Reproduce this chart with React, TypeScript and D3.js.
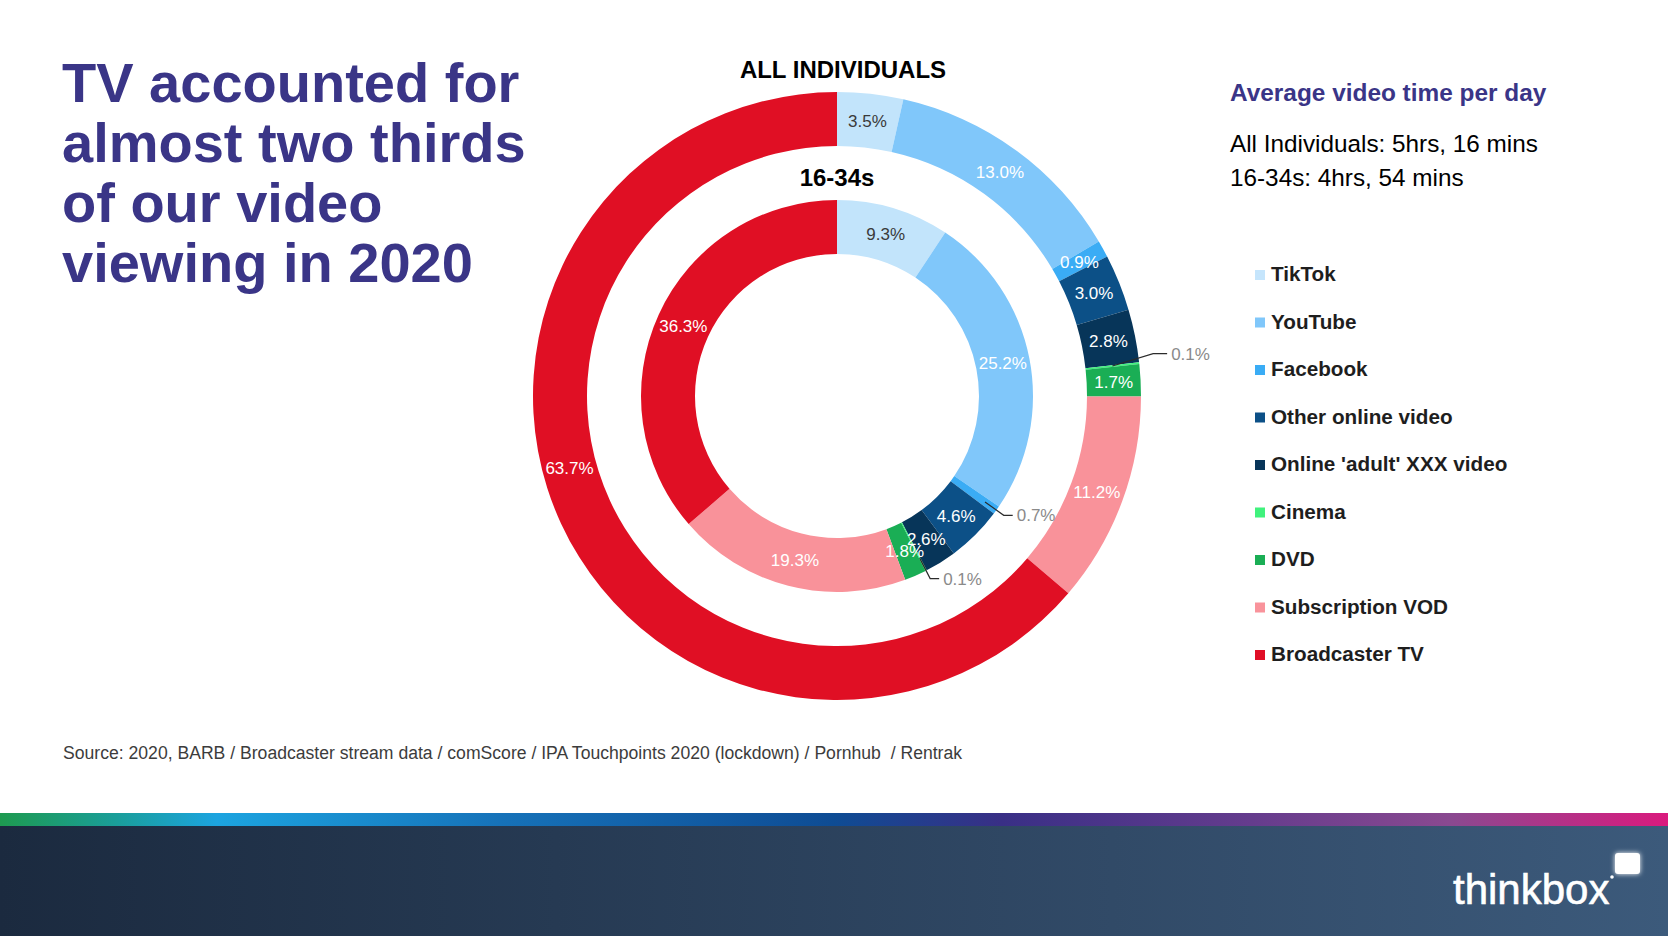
import React from 'react';
import * as d3 from 'd3';

const categories = ['TikTok', 'YouTube', 'Facebook', 'Other online video', "Online 'adult' XXX video", 'Cinema', 'DVD', 'Subscription VOD', 'Broadcaster TV'];
const allIndividuals = [3.5, 13.0, 0.9, 3.0, 2.8, 0.1, 1.7, 11.2, 63.7];
const age1634 = [9.3, 25.2, 0.7, 4.6, 2.6, 0.1, 1.8, 19.3, 36.3];
const sliceColors = ['#C2E4FB', '#80C7FA', '#3AACF5', '#0C5087', '#073559', '#40F27D', '#1AAE55', '#F9929A', '#E00F24'];
const legendColors = ['#C5E5FC', '#80C7FA', '#3AACF5', '#0C5087', '#073559', '#40F27D', '#1AAE55', '#F9939B', '#E00E26'];
const titleLines = ['TV accounted for', 'almost two thirds', 'of our video', 'viewing in 2020'];
const sideHeading = 'Average video time per day';
const sideLines = ['All Individuals: 5hrs, 16 mins', '16-34s: 4hrs, 54 mins'];
const outerTitle = 'ALL INDIVIDUALS';
const innerTitle = '16-34s';
const sourceText = 'Source: 2020, BARB / Broadcaster stream data / comScore / IPA Touchpoints 2020 (lockdown) / Pornhub  / Rentrak';

const W = 1668;
const H = 936;
const FONT = "'Liberation Sans', Arial, sans-serif";
const cx = 837;
const cy = 396;
const outerRing = { inner: 250, outer: 304 };
const innerRing = { inner: 142, outer: 196 };
const OUTSIDE_THRESHOLD = 0.8;

const pie = d3.pie<number>().sort(null).value((d) => d).startAngle(0).endAngle(2 * Math.PI);

function Ring({ values, ring, leaderStart, elbowR, elbowDy, hLen, largestLabelTurn }: any) {
  const arcs = pie(values);
  const arc = d3.arc<d3.PieArcDatum<number>>().innerRadius(ring.inner).outerRadius(ring.outer);
  const pt = (a: number, r: number) => [r * Math.sin(a), -r * Math.cos(a)];
  const maxVal = d3.max(values as number[]) as number;
  const midR = (ring.inner + ring.outer) / 2;
  return (
    <g transform={`translate(${cx},${cy})`}>
      {arcs.map((a, i) => (
        <path key={'p' + i} d={arc(a) || ''} fill={sliceColors[i]} />
      ))}
      {arcs.map((a, i) => {
        const label = a.data.toFixed(1) + '%';
        const mid = (a.startAngle + a.endAngle) / 2;
        if (a.data < OUTSIDE_THRESHOLD) {
          const [sx, sy] = pt(mid, leaderStart);
          const [ex, ey0] = pt(mid, elbowR);
          const ey = ey0 + elbowDy;
          const hx = ex + hLen;
          return (
            <g key={'l' + i}>
              <polyline points={`${sx},${sy} ${ex},${ey} ${hx},${ey}`} fill="none" stroke="#2b2b2b" strokeWidth={1.2} />
              <text x={hx + 4} y={ey} dy="0.35em" fill="#8a8a8a" fontSize={17} fontFamily={FONT}>{label}</text>
            </g>
          );
        }
        const ang = a.data === maxVal ? mid + (largestLabelTurn || 0) : mid;
        const [lx, ly] = pt(ang, midR);
        return (
          <text key={'l' + i} x={lx} y={ly} dy="0.35em" textAnchor="middle" fill={i === 0 ? '#3a3a3a' : '#ffffff'} fontSize={17} fontFamily={FONT}>
            {label}
          </text>
        );
      })}
    </g>
  );
}

export default function App() {
  const stripeStops = [
    ['0%', '#1E9A50'], ['7%', '#1A9E9A'], ['13%', '#1CA4E0'], ['30%', '#1672B9'], ['50%', '#0E4C94'],
    ['60%', '#392F86'], ['75%', '#653C8D'], ['87%', '#8A4990'], ['100%', '#DA1A7E'],
  ];
  return (
    <svg width={W} height={H} viewBox={`0 0 ${W} ${H}`} style={{ position: 'absolute', left: 0, top: 0, background: '#fff' }}>
      <defs>
        <linearGradient id="stripe" x1="0" x2="1" y1="0" y2="0">
          {stripeStops.map(([o, c]) => <stop key={o} offset={o} stopColor={c} />)}
        </linearGradient>
        <linearGradient id="band" x1="0" x2="1" y1="0" y2="0">
          <stop offset="0%" stopColor="#1B2A3F" />
          <stop offset="100%" stopColor="#3C5A7B" />
        </linearGradient>
        <filter id="glow" x="-50%" y="-50%" width="200%" height="200%">
          <feGaussianBlur stdDeviation="2.5" result="b" />
          <feMerge><feMergeNode in="b" /><feMergeNode in="SourceGraphic" /></feMerge>
        </filter>
      </defs>
      <rect x={0} y={0} width={W} height={H} fill="#ffffff" />

      {titleLines.map((t, i) => (
        <text key={t} x={62} y={102 + i * 60} fontSize={56} fontWeight="bold" fill="#3A3587" fontFamily={FONT}>{t}</text>
      ))}

      <text x={843} y={78} textAnchor="middle" fontSize={24} fontWeight="bold" fill="#000" fontFamily={FONT}>{outerTitle}</text>
      <text x={837} y={186} textAnchor="middle" fontSize={24} fontWeight="bold" fill="#000" fontFamily={FONT}>{innerTitle}</text>

      <Ring values={allIndividuals} ring={outerRing} leaderStart={277} elbowR={318} elbowDy={-8} hLen={14} largestLabelTurn={0.17} />
      <Ring values={age1634} ring={innerRing} leaderStart={182} elbowR={205} elbowDy={0} hLen={9} largestLabelTurn={0} />

      <text x={1230} y={101} fontSize={24.4} fontWeight="bold" fill="#3A3587" fontFamily={FONT}>{sideHeading}</text>
      {sideLines.map((t, i) => (
        <text key={t} x={1230} y={152 + i * 34} fontSize={24.3} fill="#000" fontFamily={FONT}>{t}</text>
      ))}

      {categories.map((c, i) => {
        const y = 274 + i * 47.5;
        return (
          <g key={c}>
            <rect x={1255} y={y - 4} width={10} height={10} fill={legendColors[i]} />
            <text x={1271} y={y} dy="0.35em" fontSize={20.7} fontWeight="bold" fill="#1e1e1e" fontFamily={FONT}>{c}</text>
          </g>
        );
      })}

      <text x={63} y={759} fontSize={17.6} fill="#3c3c3c" fontFamily={FONT} style={{ whiteSpace: 'pre' }}>{sourceText}</text>

      <rect x={0} y={813} width={W} height={14} fill="url(#stripe)" />
      <rect x={0} y={826} width={W} height={110} fill="url(#band)" />

      <text x={1453} y={904} fontSize={42} fill="#ffffff" fontFamily={FONT} stroke="#ffffff" strokeWidth={0.6}>thinkbox</text>
      <rect x={1615} y={853} width={25} height={21} rx={3} fill="#ffffff" filter="url(#glow)" />
      <circle cx={1612} cy={877} r={1.8} fill="#ffffff" />
    </svg>
  );
}
